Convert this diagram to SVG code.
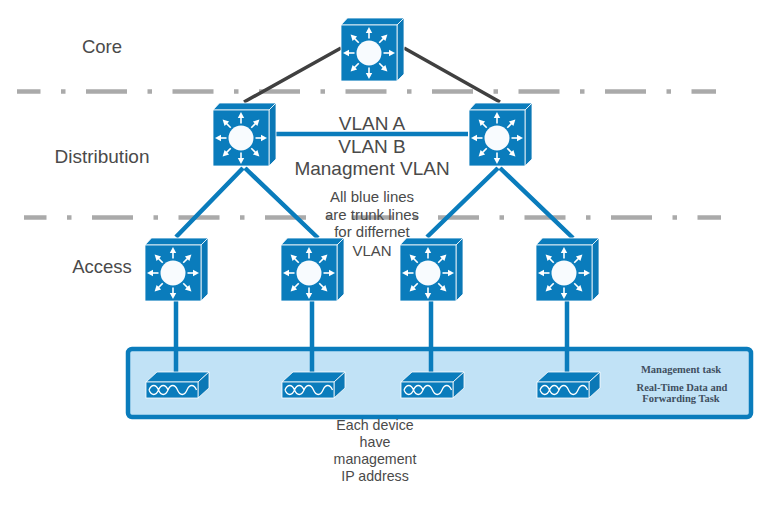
<svg xmlns="http://www.w3.org/2000/svg" width="768" height="506" viewBox="0 0 768 506">
<style>
.lbl{font-family:"Liberation Sans",Arial,sans-serif;fill:#4a4a4a;text-anchor:middle}
.s{font-family:"Liberation Serif","Times New Roman",serif;font-weight:bold;font-size:10.500px;fill:#3f4f5f;text-anchor:middle}
.dash{fill:none;stroke:#aaa;stroke-width:4.500;stroke-dasharray:41 20.500 4.500 20.500}
.blue{fill:none;stroke:#0a7cbc;stroke-width:4.500}
.dark{fill:none;stroke:#404040;stroke-width:3.500}
.face{fill:#0a7cbc;stroke:#fff;stroke-width:.8}
.side{fill:#0b78b6;stroke:#fff;stroke-width:.8}
.ar{fill:none;stroke:#fff;stroke-width:1.600}
.ah{fill:#fff}
</style>
<defs>
<g id="arrow"><path class="ar" d="M0-14.500V-21"/><path class="ah" d="M0-26L3.200-20H-3.200Z"/></g>
<g id="sw">
<path class="face" d="M0 0L6.500-7H63L56 0Z"/>
<path class="side" d="M56 0L63-7V49L56 56Z"/>
<rect class="face" width="56" height="56"/>
<g transform="translate(28 28)">
<circle r="12.500" fill="#f8fbfe"/>
<use href="#arrow"/><use href="#arrow" transform="rotate(45)"/><use href="#arrow" transform="rotate(90)"/><use href="#arrow" transform="rotate(135)"/><use href="#arrow" transform="rotate(180)"/><use href="#arrow" transform="rotate(225)"/><use href="#arrow" transform="rotate(270)"/><use href="#arrow" transform="rotate(315)"/>
</g>
</g>
<g id="dev">
<path class="face" d="M0 0L11-10H63L52 0Z"/>
<path class="side" d="M52 0L63-10V6L52 16Z"/>
<rect class="face" width="52" height="16"/>
<path d="M3 8c2.500-6 7-6 9.500 0s7 6 9.500 0 7-6 9.500 0 7 6 9.500 0 7-6 9.500 0M3 8c2.500 6 7 6 9.500 0s7-6 9.500 0M31.500 8c2.500 6 7 6 9.500 0s7-6 9.500 0" fill="none" stroke="#fff" stroke-width="1.300"/>
</g>
</defs>
<rect width="768" height="506" fill="#fff"/>
<rect id="panel" x="128" y="349" width="623" height="68" rx="4" fill="#c1e2f6" stroke="#0a7cbc" stroke-width="4.500"/>
<g id="connectors">
<path class="dash" stroke-dashoffset="17.500" d="M17 91.500H716"/>
<path class="dash" stroke-dashoffset="18.500" d="M24 217.500H721"/>
<path class="dark" d="M341 48L244 102M404 48L500 102"/>
<path class="blue" d="M276 134H468"/>
<path class="blue" d="M243 168L176 237M245 168L318 238M498 168L427 237M500 168L573 238"/>
<path class="blue" d="M176 301V372M312 301V372M431 301V372M567 301V372"/>
</g>
<g id="core"><use href="#sw" x="341" y="25"/></g>
<g id="dist1"><use href="#sw" x="213" y="110"/></g>
<g id="dist2"><use href="#sw" x="469" y="110"/></g>
<g id="acc1"><use href="#sw" x="145" y="245"/></g>
<g id="acc2"><use href="#sw" x="281" y="245"/></g>
<g id="acc3"><use href="#sw" x="400" y="245"/></g>
<g id="acc4"><use href="#sw" x="536" y="245"/></g>
<g id="dev1"><use href="#dev" x="146" y="382"/></g>
<g id="dev2"><use href="#dev" x="282" y="382"/></g>
<g id="dev3"><use href="#dev" x="401" y="382"/></g>
<g id="dev4"><use href="#dev" x="537" y="382"/></g>
<g id="labels">
<text class="lbl" x="102" y="53" font-size="18.500">Core</text>
<text class="lbl" x="102" y="163" font-size="19">Distribution</text>
<text class="lbl" x="102" y="273" font-size="18.500">Access</text>
<text class="lbl" x="372" y="130" font-size="19">VLAN A</text>
<text class="lbl" x="372" y="153" font-size="19">VLAN B</text>
<text class="lbl" x="372" y="175" font-size="19">Managment VLAN</text>
<text class="lbl" x="372" y="202" font-size="15">All blue lines</text>
<text class="lbl" x="372" y="220" font-size="15">are trunk lines</text>
<text class="lbl" x="372" y="237" font-size="15">for differnet</text>
<text class="lbl" x="372" y="256" font-size="15">VLAN</text>
<text class="lbl" x="375" y="430" font-size="14.200">Each device</text>
<text class="lbl" x="375" y="447" font-size="14.200">have</text>
<text class="lbl" x="375" y="464" font-size="14.200">management</text>
<text class="lbl" x="375" y="481" font-size="14.200">IP address</text>
<text class="s" x="681" y="373">Management task</text>
<text class="s" x="682" y="391">Real-Time Data and</text>
<text class="s" x="681" y="402">Forwarding Task</text>
</g>
</svg>
